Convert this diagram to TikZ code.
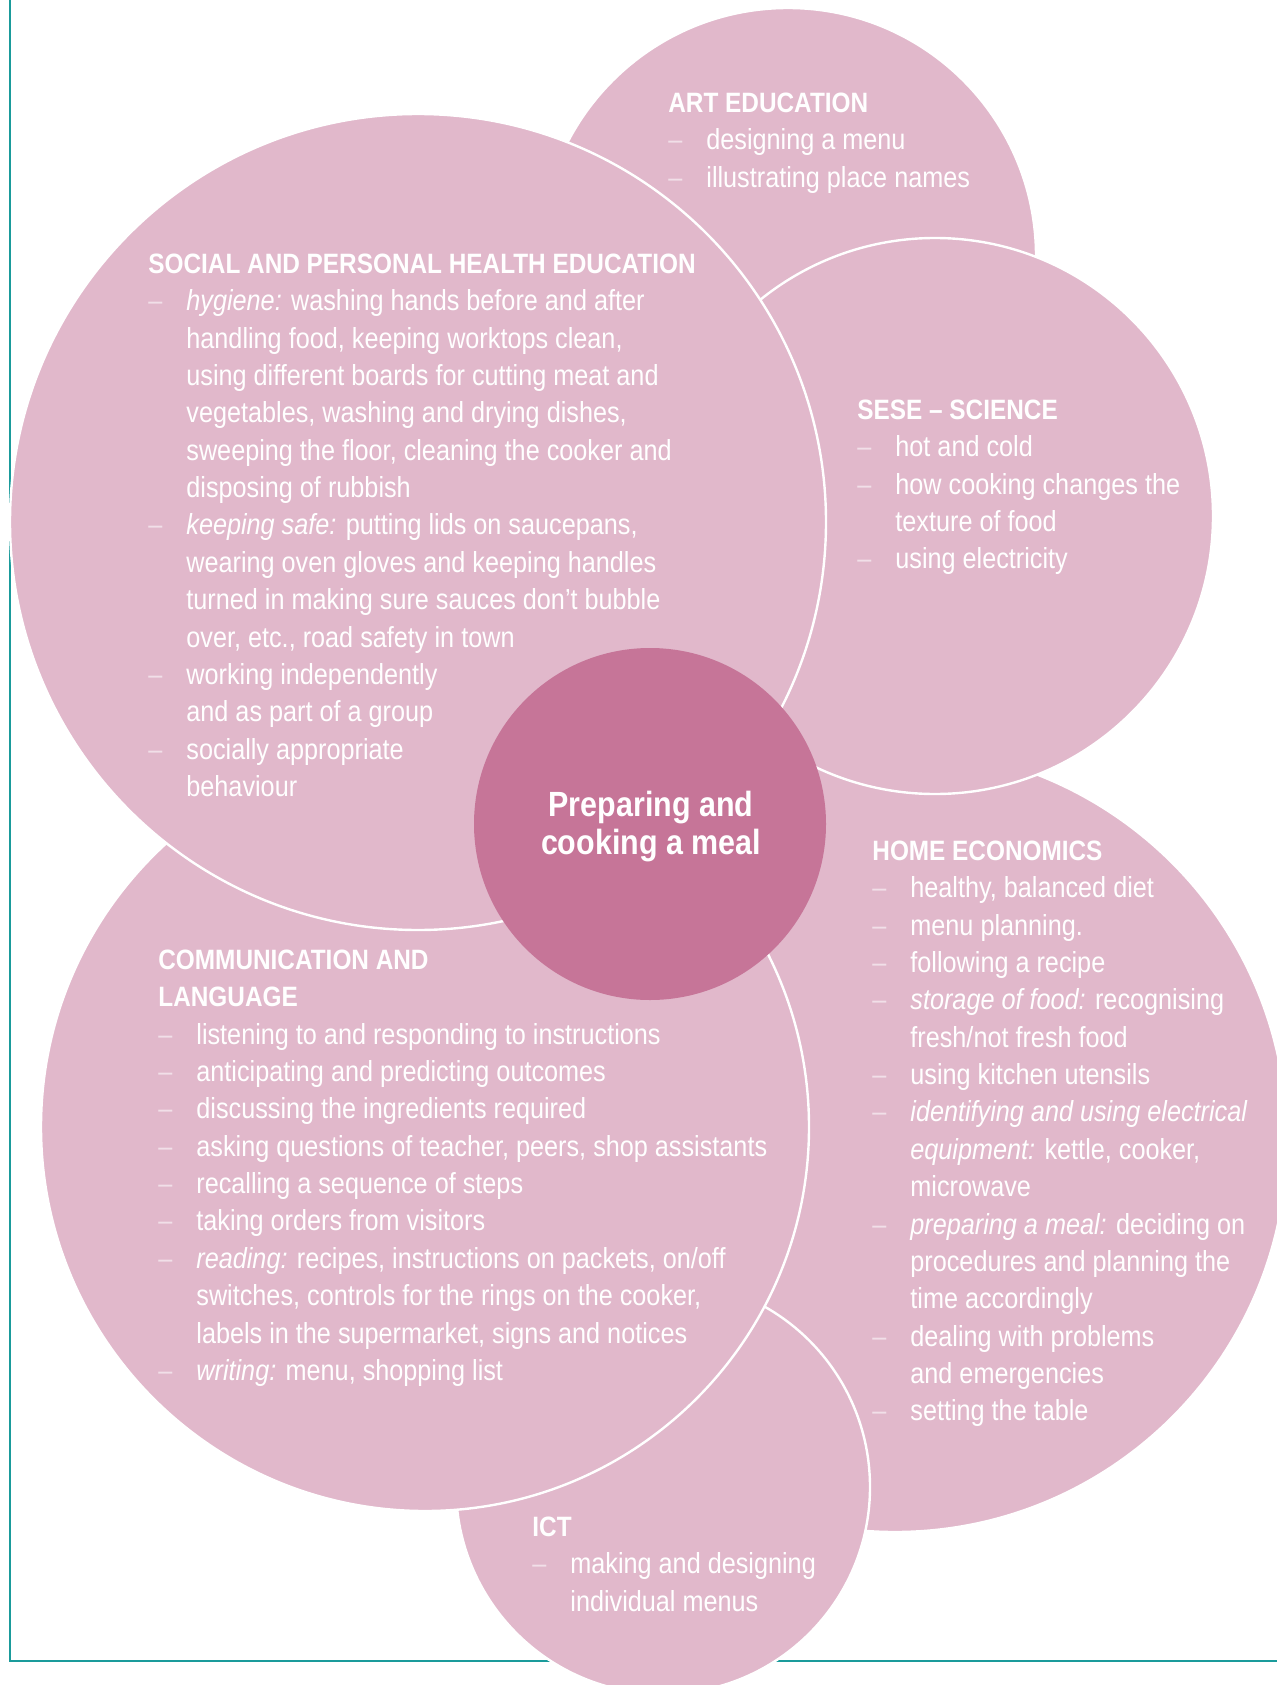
\documentclass[tikz,border=0pt]{standalone}
\usepackage{fontspec}
\setmainfont{Liberation Sans}[FakeStretch=0.87]
\usepackage{tikz}

\definecolor{bubblepink}{HTML}{E1B8CB}
\definecolor{corepink}{HTML}{C67598}
\definecolor{frameteal}{HTML}{1A9B9B}
\colorlet{dashpink}{white!55!bubblepink}

\newcommand{\itm}{\makebox[19pt][l]{\textcolor{dashpink}{\textendash}}}
\newcommand{\cont}{\hspace*{19pt}}
\newcommand{\hd}[1]{{\fontsize{14}{18.68}\selectfont\bfseries #1}}
\newcommand{\topline}{\rule{0pt}{12pt}}

\tikzset{
  bubble/.style={circle, fill=bubblepink, draw=white, line width=1.2pt,
                 inner sep=0pt, outer sep=0pt},
  topic/.style={anchor=north west, align=left, inner sep=0pt, text=white,
                font=\fontsize{14.5}{18.68}\selectfont},
}

\begin{document}
\begin{tikzpicture}[x=0.5pt, y=-0.5pt]
    \useasboundingbox (0,0) rectangle (1277,1685);
    \clip (0,0) rectangle (1277,1685);
    % frame
    \draw [frameteal, line width=1.1pt] (10,0) -- (10,1661) -- (1277,1661);
    % circles, back to front
    \path ( 788,  256) node [bubble, minimum size=248pt] (art)  {};
    \path ( 895, 1140) node [bubble, minimum size=392pt] (home) {};
    \path ( 663, 1487) node [bubble, minimum size=207pt] (ict)  {};
    \path ( 425, 1127) node [bubble, minimum size=384pt] (comm) {};
    \path ( 935,  516) node [bubble, minimum size=278pt] (sese) {};
    \path ( 418,  522) node [bubble, minimum size=408pt] (sphe) {};
    \path ( 650,  824) node [circle, fill=corepink, inner sep=0pt,
                             minimum size=176pt] (meal) {};
    % texts
    \path ( 651,  788) node [anchor=north, align=center, inner sep=0pt, text=white,
                             font=\fontsize{17.5}{18.85}\selectfont\bfseries]
        (mealText) {\rule{0pt}{14pt}Preparing and\\cooking a meal};
    \path ( 668,   88) node [topic] (artText) {\topline\hd{ART EDUCATION}\\
        \itm designing a menu\\
        \itm illustrating place names};
    \path ( 148,  249) node [topic] (spheText) {\topline\hd{SOCIAL AND PERSONAL HEALTH EDUCATION}\\
        \itm\textit{hygiene:} washing hands before and after\\
        \cont handling food, keeping worktops clean,\\
        \cont using different boards for cutting meat and\\
        \cont vegetables, washing and drying dishes,\\
        \cont sweeping the floor, cleaning the cooker and\\
        \cont disposing of rubbish\\
        \itm\textit{keeping safe:} putting lids on saucepans,\\
        \cont wearing oven gloves and keeping handles\\
        \cont turned in making sure sauces don’t bubble\\
        \cont over, etc., road safety in town\\
        \itm working independently\\
        \cont and as part of a group\\
        \itm socially appropriate\\
        \cont behaviour};
    \path ( 857,  395) node [topic] (seseText) {\topline\hd{SESE \textendash\ SCIENCE}\\
        \itm hot and cold\\
        \itm how cooking changes the\\
        \cont texture of food\\
        \itm using electricity};
    \path ( 872,  836) node [topic] (homeText) {\topline\hd{HOME ECONOMICS}\\
        \itm healthy, balanced diet\\
        \itm menu planning.\\
        \itm following a recipe\\
        \itm\textit{storage of food:} recognising\\
        \cont fresh/not fresh food\\
        \itm using kitchen utensils\\
        \itm\textit{identifying and using electrical}\\
        \cont\textit{equipment:} kettle, cooker,\\
        \cont microwave\\
        \itm\textit{preparing a meal:} deciding on\\
        \cont procedures and planning the\\
        \cont time accordingly\\
        \itm dealing with problems\\
        \cont and emergencies\\
        \itm setting the table};
    \path ( 158,  945) node [topic] (commText) {\topline\hd{COMMUNICATION AND}\\
        \hd{LANGUAGE}\\
        \itm listening to and responding to instructions\\
        \itm anticipating and predicting outcomes\\
        \itm discussing the ingredients required\\
        \itm asking questions of teacher, peers, shop assistants\\
        \itm recalling a sequence of steps\\
        \itm taking orders from visitors\\
        \itm\textit{reading:} recipes, instructions on packets, on/off\\
        \cont switches, controls for the rings on the cooker,\\
        \cont labels in the supermarket, signs and notices\\
        \itm\textit{writing:} menu, shopping list};
    \path ( 532, 1512) node [topic] (ictText) {\topline\hd{ICT}\\
        \itm making and designing\\
        \cont individual menus};
\end{tikzpicture}
\end{document}
